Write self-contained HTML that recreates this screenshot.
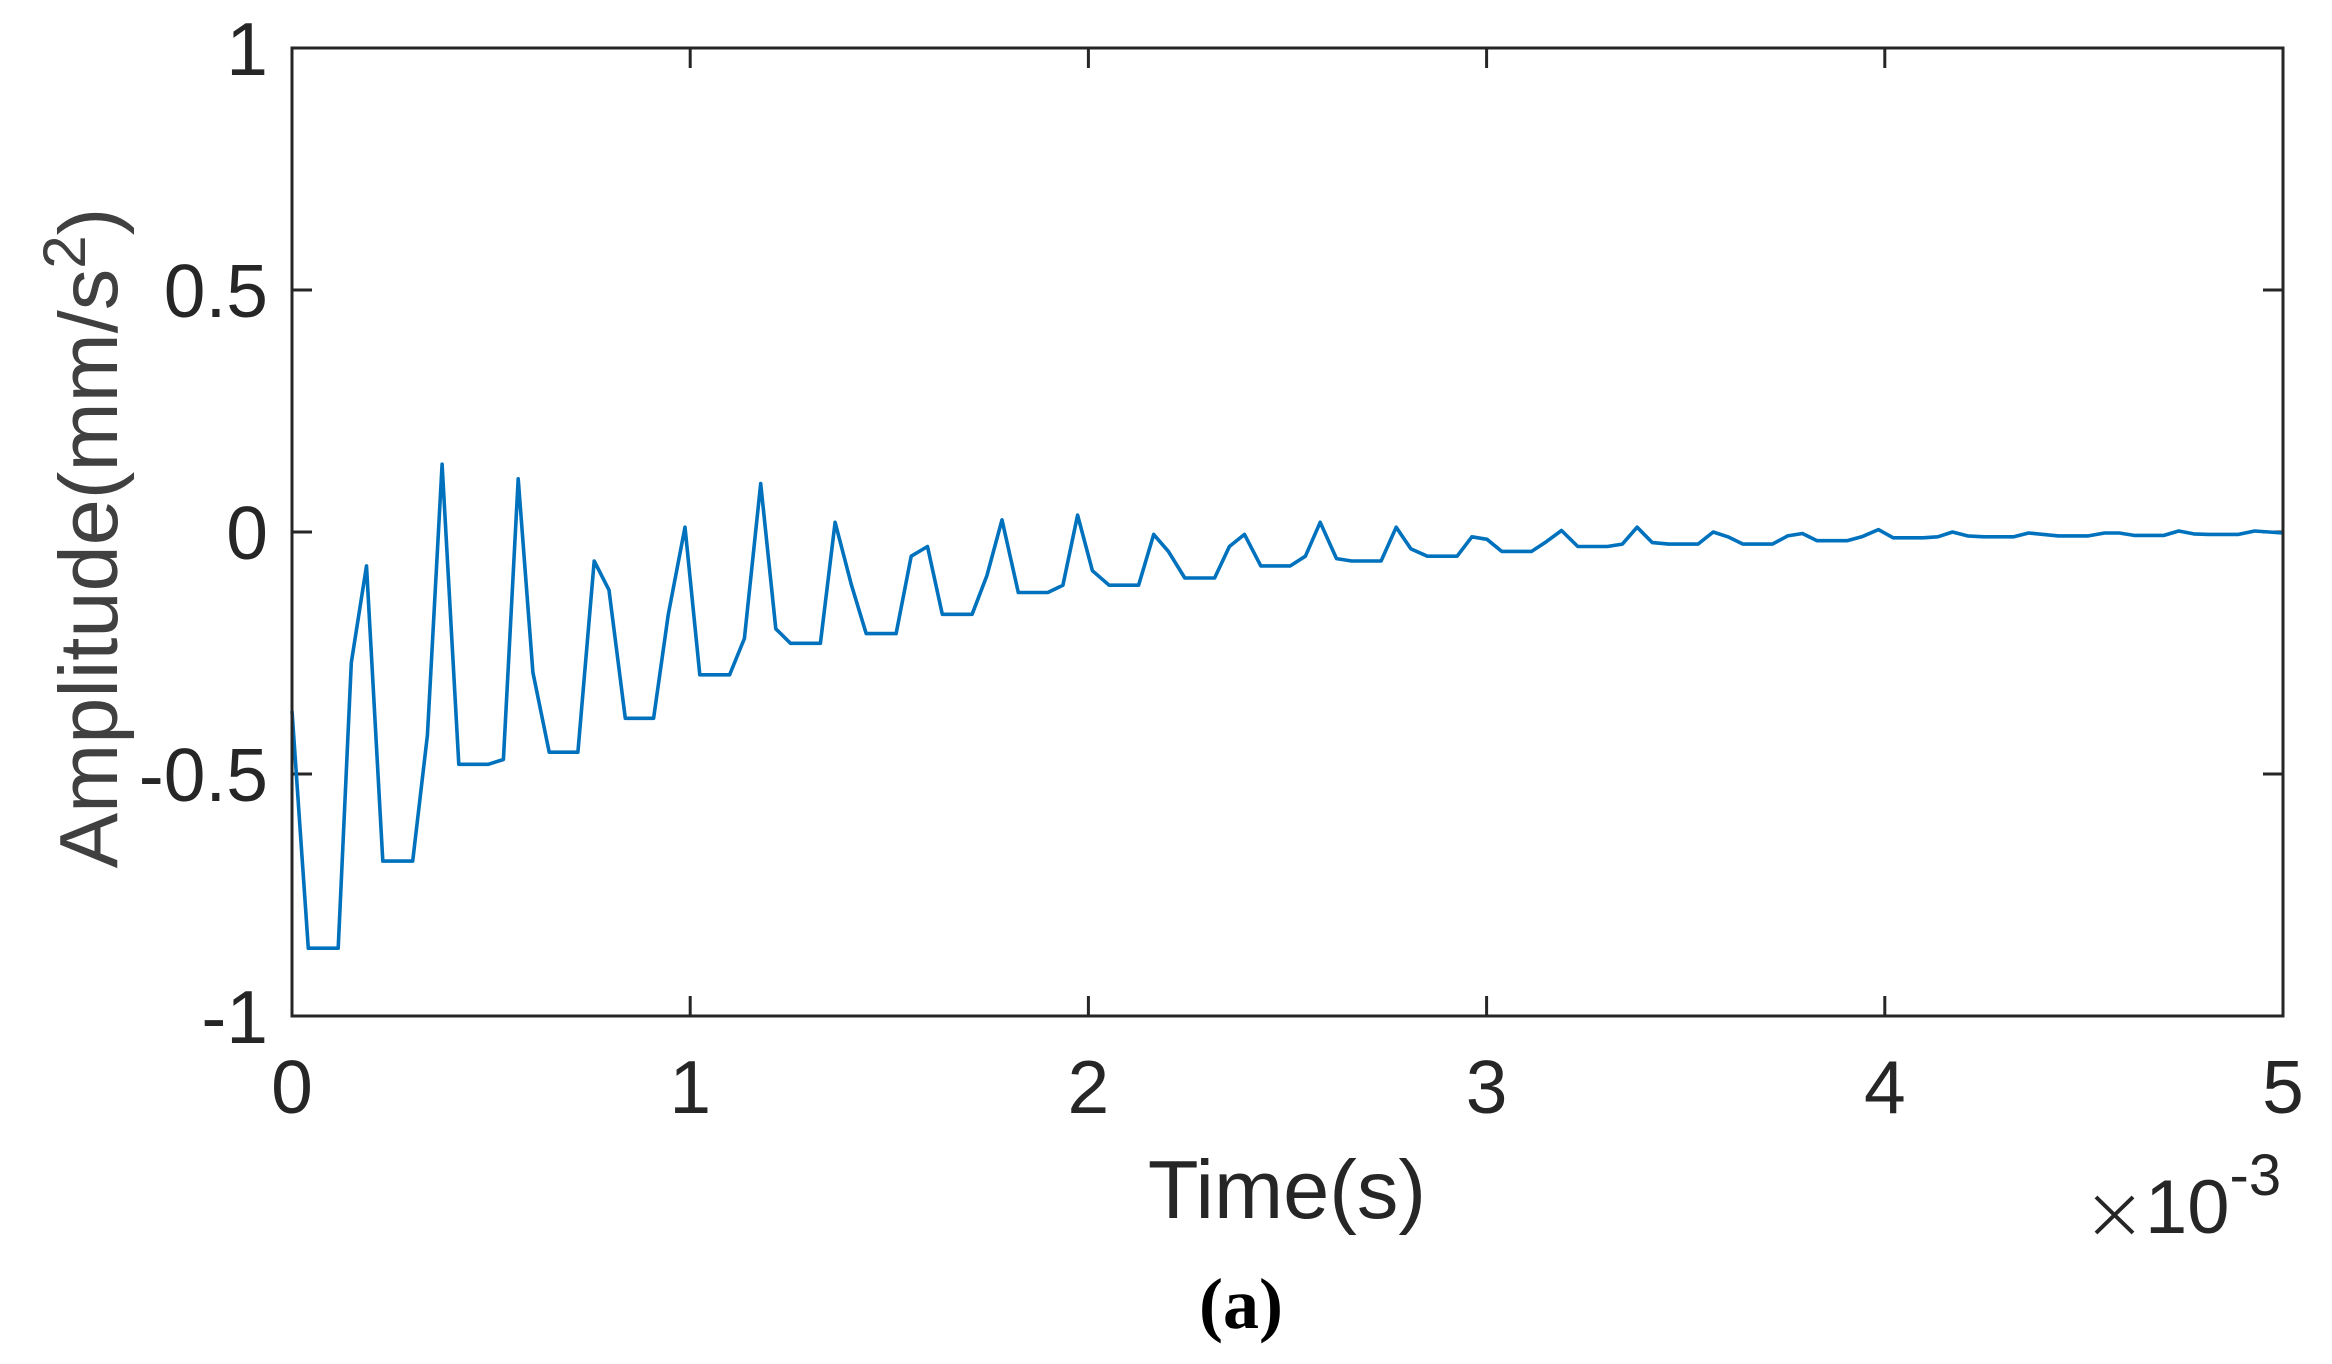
<!DOCTYPE html>
<html><head><meta charset="utf-8"><style>
html,body{margin:0;padding:0;background:#fff}
svg{display:block}
text{font-family:"Liberation Sans",Arial,sans-serif;fill:#262626}
</style></head><body>
<svg id="chart" width="2332" height="1364" viewBox="0 0 2332 1364" xmlns="http://www.w3.org/2000/svg">
<rect x="0" y="0" width="2332" height="1364" fill="#fff"/>
<g id="ticks"></g>
<g id="xlabels"></g>
<g id="ylabels"></g>
<path id="series" fill="none" stroke="#0072BD" stroke-width="3.6" stroke-linejoin="round"/>
<rect x="292" y="48" width="1991" height="968" fill="none" stroke="#262626" stroke-width="3"/>
<text x="1287" y="1218" font-size="83" text-anchor="middle">Time(s)</text>
<g>
<path d="M2096 1197 L2133 1233 M2133 1197 L2096 1233" stroke="#262626" stroke-width="4"/>
<text x="2145" y="1233" font-size="76">10<tspan font-size="58" dy="-38">-3</tspan></text>
</g>
<text transform="translate(117,538) rotate(-90)" font-size="83" text-anchor="middle" style="fill:#404040">Amplitude(mm/s<tspan font-size="60" dy="-32">2</tspan><tspan dy="32">)</tspan></text>
<text x="1241" y="1328" font-size="72" font-weight="bold" style="font-family:'Liberation Serif',serif;fill:#000" text-anchor="middle">(a)</text>
</svg>
<script>
const xTicks=[0,1,2,3,4,5];
const xTickLabels=["0","1","2","3","4","5"];
const yTicks=[-1,-0.5,0,0.5,1];
const yTickLabels=["-1","-0.5","0","0.5","1"];
const timeMs=[0,0.041,0.116,0.149,0.187,0.228,0.303,0.340,0.377,0.419,0.493,0.531,0.568,0.605,0.646,0.718,0.759,0.796,0.837,0.908,0.945,0.987,1.024,1.099,1.136,1.177,1.215,1.252,1.327,1.364,1.405,1.442,1.517,1.555,1.596,1.633,1.708,1.745,1.783,1.824,1.898,1.936,1.973,2.010,2.052,2.126,2.164,2.201,2.242,2.317,2.354,2.392,2.433,2.507,2.545,2.582,2.623,2.661,2.735,2.773,2.810,2.851,2.926,2.963,3.001,3.038,3.113,3.150,3.188,3.229,3.303,3.341,3.378,3.416,3.457,3.531,3.569,3.606,3.644,3.718,3.756,3.793,3.830,3.905,3.942,3.984,4.021,4.096,4.133,4.170,4.208,4.249,4.324,4.361,4.398,4.436,4.511,4.552,4.589,4.626,4.701,4.738,4.776,4.813,4.888,4.929,5.0];
const amplitude=[-0.37,-0.86,-0.86,-0.27,-0.07,-0.68,-0.68,-0.42,0.14,-0.48,-0.48,-0.47,0.11,-0.29,-0.455,-0.455,-0.06,-0.12,-0.385,-0.385,-0.17,0.01,-0.295,-0.295,-0.22,0.10,-0.20,-0.23,-0.23,0.02,-0.11,-0.21,-0.21,-0.05,-0.03,-0.17,-0.17,-0.09,0.025,-0.125,-0.125,-0.11,0.035,-0.08,-0.11,-0.11,-0.005,-0.04,-0.095,-0.095,-0.03,-0.005,-0.07,-0.07,-0.05,0.02,-0.055,-0.06,-0.06,0.01,-0.035,-0.05,-0.05,-0.01,-0.015,-0.04,-0.04,-0.02,0.003,-0.03,-0.03,-0.025,0.01,-0.022,-0.025,-0.025,0,-0.01,-0.025,-0.025,-0.008,-0.003,-0.018,-0.018,-0.01,0.005,-0.012,-0.012,-0.01,0,-0.008,-0.01,-0.01,-0.002,-0.005,-0.008,-0.008,-0.002,-0.002,-0.007,-0.007,0.002,-0.004,-0.005,-0.005,0.002,-0.002];
const L=292,R=2283,T=48,B=1016;
const sx=v=>L+(v-0)/(5-0)*(R-L);
const sy=v=>B-(v+1)/2*(B-T);
const NS="http://www.w3.org/2000/svg";
const tk=document.getElementById('ticks');
function line(x1,y1,x2,y2,name){const l=document.createElementNS(NS,'line');
l.setAttribute('x1',x1);l.setAttribute('y1',y1);l.setAttribute('x2',x2);l.setAttribute('y2',y2);
l.setAttribute('stroke','#262626');l.setAttribute('stroke-width','3');


tk.appendChild(l);}
xTicks.forEach((v,i)=>{const x=sx(v);line(x,B,x,B-20,'x-tick');line(x,T,x,T+20,'x-tick-top');
const t=document.createElementNS(NS,'text');t.setAttribute('x',x);t.setAttribute('y',1113);
t.setAttribute('font-size','75');t.setAttribute('text-anchor','middle');t.textContent=xTickLabels[i];


document.getElementById('xlabels').appendChild(t);});
yTicks.forEach((v,i)=>{const y=sy(v);line(L,y,L+20,y,'y-tick');line(R,y,R-20,y,'y-tick-right');
const t=document.createElementNS(NS,'text');t.setAttribute('x',268);t.setAttribute('y',y+27);
t.setAttribute('font-size','75');t.setAttribute('text-anchor','end');t.textContent=yTickLabels[i];


document.getElementById('ylabels').appendChild(t);});
document.getElementById('series').setAttribute('d',timeMs.map((t,i)=>(i?'L':'M')+sx(t).toFixed(1)+' '+sy(amplitude[i]).toFixed(1)).join(' '));
</script>
</body></html>
